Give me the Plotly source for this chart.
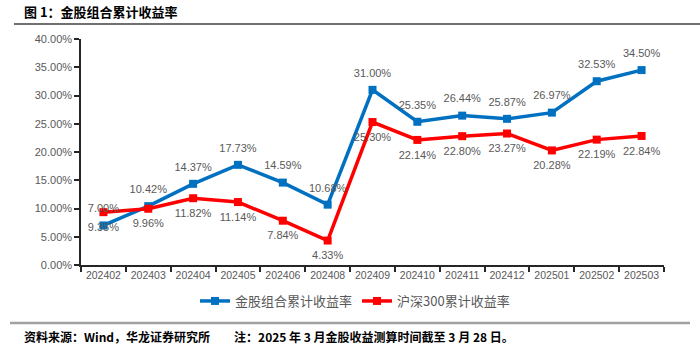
import plotly.graph_objects as go

# Monthly periods and cumulative returns (in %)
periods = ["202402", "202403", "202404", "202405", "202406", "202408", "202409",
           "202410", "202411", "202412", "202501", "202502", "202503"]
portfolio = [7.00, 10.42, 14.37, 17.73, 14.59, 10.68, 31.00, 25.35, 26.44, 25.87, 26.97, 32.53, 34.50]
csi300 = [9.35, 9.96, 11.82, 11.14, 7.84, 4.33, 25.30, 22.14, 22.80, 23.27, 20.28, 22.19, 22.84]

series_names = ["金股组合累计收益率", "沪深300累计收益率"]
title_text = "图 1：金股组合累计收益率"
footer_text = "资料来源：Wind，华龙证券研究所　　注：2025 年 3 月金股收益测算时间截至 3 月 28 日。"

BLUE = "#0070C0"
RED = "#FF0000"
GREY = "#595959"
LABEL_FONT = dict(family="Liberation Sans, Arial, sans-serif", size=11, color=GREY)

# Plot-area geometry in pixels
W, H = 700, 350
ML, MR, MT, MB = 81, 36, 39, 85
pw, ph = W - ML - MR, H - MT - MB

def px(x):
    return (x - ML) / pw

def py(y):
    return (H - MB - y) / ph

fig = go.Figure()

series = [
    (series_names[0], portfolio, BLUE, "top center"),
    (series_names[1], csi300, RED, "bottom center"),
]

# Lines with square markers
for name, vals, color, _ in series:
    fig.add_trace(go.Scatter(
        x=periods, y=[v / 100 for v in vals], name=name,
        mode="lines+markers",
        line=dict(color=color, width=3.5),
        marker=dict(symbol="square", size=8, color=color),
        cliponaxis=False,
    ))

# Value labels, pushed a little further from the points by a larger hidden marker
for name, vals, color, pos in series:
    fig.add_trace(go.Scatter(
        x=periods, y=[v / 100 for v in vals], name=name,
        mode="markers+text",
        marker=dict(size=15, opacity=0),
        text=[f"{v:.2f}%" for v in vals],
        textposition=pos,
        textfont=LABEL_FONT,
        showlegend=False, hoverinfo="skip",
        cliponaxis=False,
    ))

fig.update_layout(
    width=W, height=H,
    margin=dict(l=ML, r=MR, t=MT, b=MB),
    paper_bgcolor="white", plot_bgcolor="white",
    font=dict(family="Liberation Sans, Arial, sans-serif", color=GREY),
    showlegend=True,
    legend=dict(
        orientation="h", x=px(355), xanchor="center", y=py(301), yanchor="middle",
        font=dict(family="Noto Sans CJK SC, sans-serif", size=13, color=GREY),
        bgcolor="rgba(0,0,0,0)", itemwidth=30, tracegroupgap=0,
    ),
    xaxis=dict(
        type="category", range=[-0.5, 12.5],
        showline=True, linecolor="#262626", linewidth=1.5,
        ticks="outside", ticklen=5, tickcolor="#262626", tickwidth=1.5,
        tickson="boundaries", showgrid=False, zeroline=False,
        tickangle=0,
        tickfont=dict(size=10.5, color=GREY),
    ),
    yaxis=dict(
        range=[0, 0.40], dtick=0.05, tickformat=".2%",
        showline=True, linecolor="#262626", linewidth=1.5,
        ticks="outside", ticklen=5, tickcolor="#262626", tickwidth=1.5,
        showgrid=False, zeroline=False,
        tickfont=dict(size=11, color=GREY),
    ),
)

# Header title
fig.add_annotation(
    x=px(22), y=py(12), xref="paper", yref="paper", text=f"<b>{title_text}</b>",
    showarrow=False, xanchor="left", yanchor="middle",
    font=dict(family="Noto Sans CJK SC, sans-serif", size=13, color="#000000"),
)
# Footer source note
fig.add_annotation(
    x=px(22), y=py(336), xref="paper", yref="paper", text=f"<b>{footer_text}</b>",
    showarrow=False, xanchor="left", yanchor="middle",
    font=dict(family="Noto Sans CJK SC, sans-serif", size=12, color="#000000"),
)

# Header and footer rules
fig.add_shape(type="line", xref="paper", yref="paper",
              x0=px(14), x1=px(700), y0=py(24), y1=py(24),
              line=dict(color="#404040", width=1.5))
fig.add_shape(type="line", xref="paper", yref="paper",
              x0=px(10), x1=px(690), y0=py(323), y1=py(323),
              line=dict(color="#A0A0A0", width=2.5))

fig.write_html("out.html")
